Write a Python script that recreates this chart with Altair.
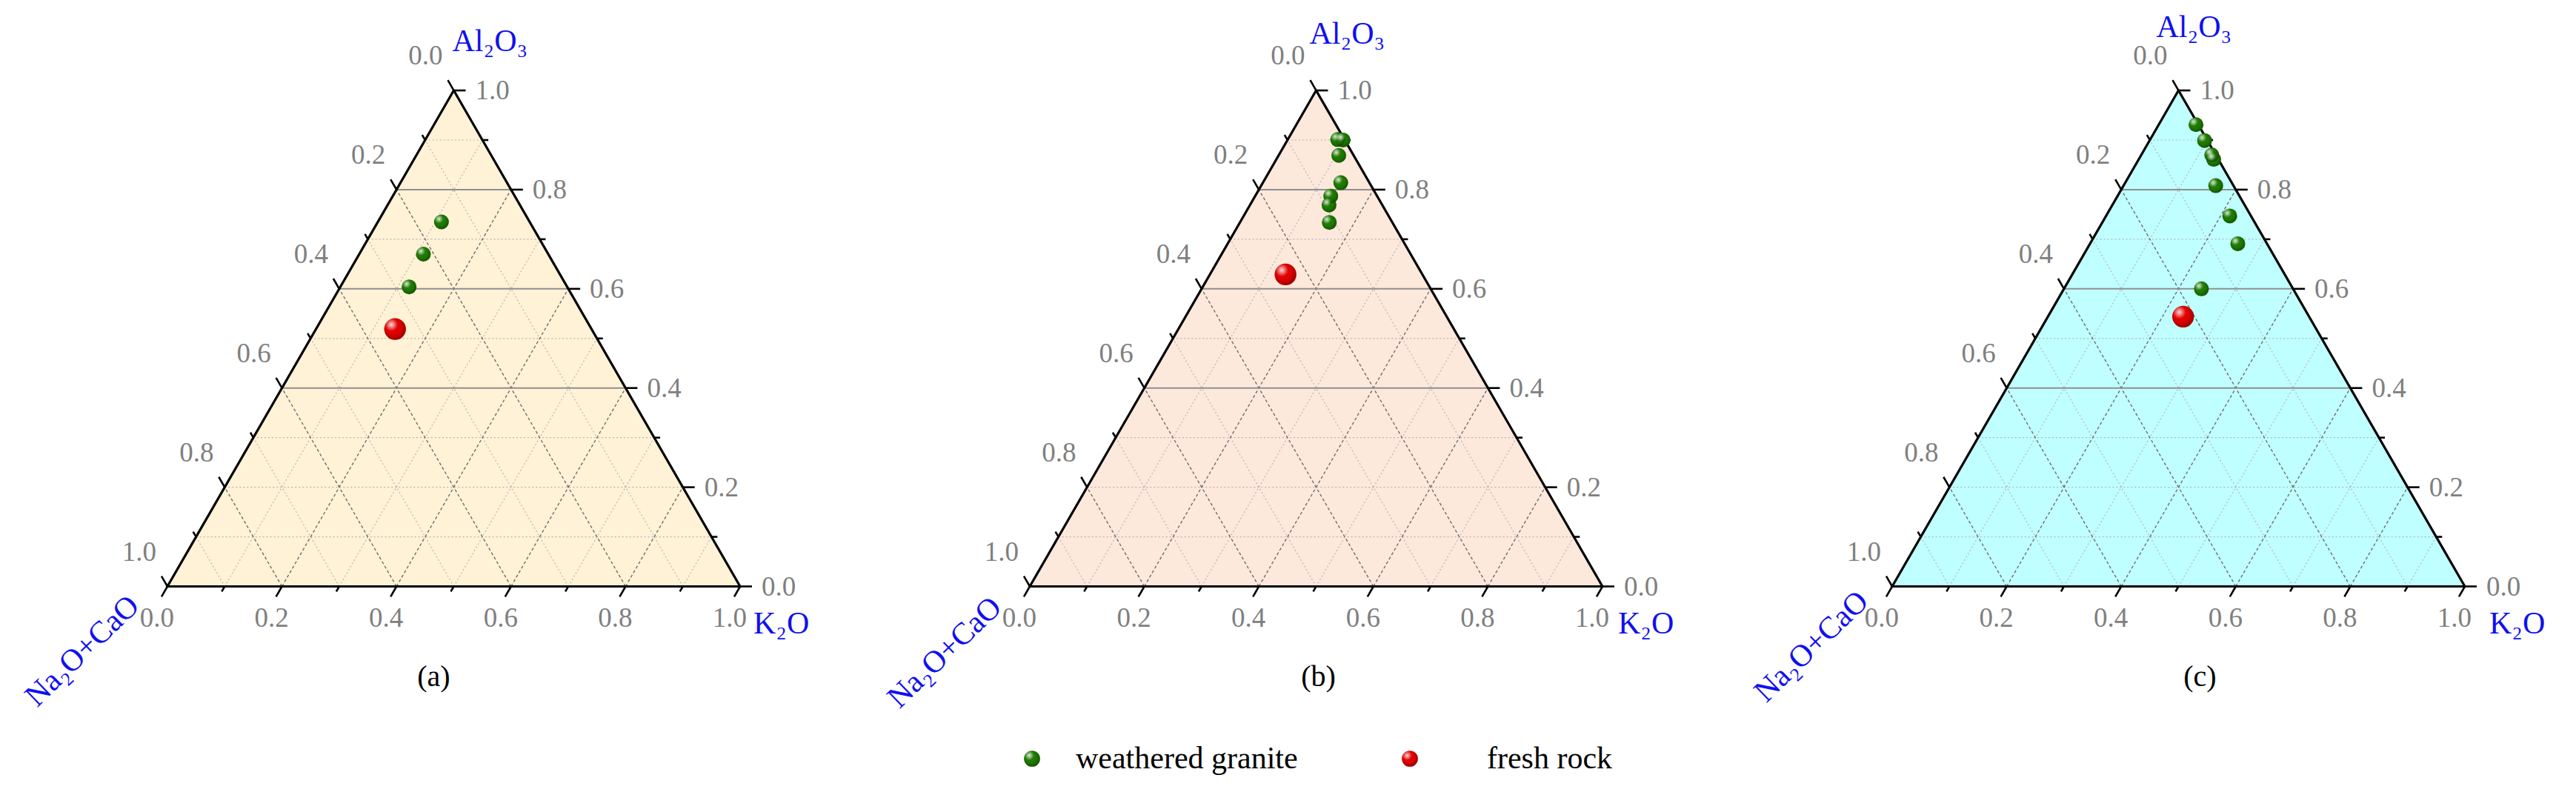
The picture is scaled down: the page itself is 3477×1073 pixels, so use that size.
import altair as alt
import numpy as np
import pandas as pd

# ---------------- values (ternary fractions) ----------------
# panel (a)
a_green_al2o3 = [0.735, 0.670, 0.604]
a_green_k2o = [0.111, 0.112, 0.120]
a_red_al2o3 = [0.519]
a_red_k2o = [0.138]
# panel (b)
b_green_al2o3 = [0.901, 0.900, 0.869, 0.814, 0.787, 0.769, 0.734]
b_green_k2o = [0.087, 0.097, 0.105, 0.136, 0.132, 0.138, 0.156]
b_red_al2o3 = [0.629]
b_red_k2o = [0.132]
# panel (c)
c_green_al2o3 = [0.931, 0.899, 0.870, 0.861, 0.808, 0.747, 0.691, 0.600]
c_green_k2o = [0.065, 0.096, 0.123, 0.131, 0.161, 0.216, 0.258, 0.240]
c_red_al2o3 = [0.544]
c_red_k2o = [0.236]

series_names = ["weathered granite", "fresh rock"]
series_colors = ["#1e7a02", "#e00000"]
panel_labels = ["(a)", "(b)", "(c)"]
panel_fills = ["#fff2d6", "#fde8dc", "#c0ffff"]

tick_values = [0.0, 0.2, 0.4, 0.6, 0.8, 1.0]
tick_labels = ["0.0", "0.2", "0.4", "0.6", "0.8", "1.0"]
minor_values = [0.1, 0.3, 0.5, 0.7, 0.9]
major_grid = [0.2, 0.4, 0.6, 0.8]
solid_levels = [0.4, 0.6, 0.8]  # Al2O3 levels drawn as solid lines

title_top = "Al₂O₃"
title_right = "K₂O"
title_left = "Na₂O+CaO"

# ---------------- layout ----------------
W, HGT = 1133, 1050
X0 = -0.282
UNIT = 773.0  # pixels per unit side length
X1 = X0 + W / UNIT
YMAX = 783.5 / UNIT
YMIN = YMAX - HGT / UNIT
FONT = "Liberation Serif"
S3 = np.sqrt(3) / 2


def to_xy(al, k):
    """ternary (Al2O3, K2O) -> cartesian"""
    return k + al / 2.0, al * S3


xs = alt.Scale(domain=[X0, X1], nice=False, zero=False)
ys = alt.Scale(domain=[YMIN, YMAX], nice=False, zero=False)
X = alt.X("x:Q", scale=xs, axis=None)
Y = alt.Y("y:Q", scale=ys, axis=None)

# grid lines
grid_rows = []
for v in major_grid + minor_values:
    major = v in major_grid
    (x1, y1), (x2, y2) = to_xy(v, 0), to_xy(v, 1 - v)
    grid_rows.append(dict(x=x1, y=y1, x2=x2, y2=y2, kind="hmaj" if v in solid_levels else "min"))
    (x1, y1), (x2, y2) = to_xy(0, v), to_xy(1 - v, v)
    grid_rows.append(dict(x=x1, y=y1, x2=x2, y2=y2, kind="dmaj" if major else "min"))
    (x1, y1), (x2, y2) = to_xy(0, 1 - v), to_xy(1 - v, 0)
    grid_rows.append(dict(x=x1, y=y1, x2=x2, y2=y2, kind="dmaj" if major else "min"))
grid_df = pd.DataFrame(grid_rows)

# triangle
vN, vK, vA = to_xy(0, 0), to_xy(0, 1), to_xy(1, 0)
edge_df = pd.DataFrame([
    dict(x=vN[0], y=vN[1], x2=vK[0], y2=vK[1]),
    dict(x=vK[0], y=vK[1], x2=vA[0], y2=vA[1]),
    dict(x=vA[0], y=vA[1], x2=vN[0], y2=vN[1]),
])
fill_df = pd.DataFrame([dict(x=p[0], y=p[1], y0=0.0) for p in (vN, vA, vK)])

# ticks
tick_rows = []
for vals, L in ((tick_values, 16 / UNIT), (minor_values, 8 / UNIT)):
    for v in vals:
        bx, by = to_xy(0, v)  # bottom axis (K2O)
        tick_rows.append(dict(x=bx, y=by, x2=bx - 0.5 * L, y2=by - S3 * L))
        rx, ry = to_xy(v, 1 - v)  # right axis (Al2O3)
        tick_rows.append(dict(x=rx, y=ry, x2=rx + L, y2=ry))
        lx, ly = to_xy(1 - v, 0)  # left axis (Na2O+CaO)
        tick_rows.append(dict(x=lx, y=ly, x2=lx - 0.5 * L, y2=ly + S3 * L))
tick_df = pd.DataFrame(tick_rows)

bottom_lab = pd.DataFrame([dict(x=to_xy(0, v)[0], y=to_xy(0, v)[1], t=t) for v, t in zip(tick_values, tick_labels)])
right_lab = pd.DataFrame([dict(x=to_xy(v, 1 - v)[0], y=to_xy(v, 1 - v)[1], t=t) for v, t in zip(tick_values, tick_labels)])
left_lab = pd.DataFrame([dict(x=to_xy(1 - v, 0)[0], y=to_xy(1 - v, 0)[1], t=t) for v, t in zip(tick_values, tick_labels)])


def points_df(g_al, g_k, r_al, r_k):
    rows = []
    for al, k in zip(g_al, g_k):
        x, y = to_xy(al, k)
        rows.append(dict(series=series_names[0], x=x, y=y))
    for al, k in zip(r_al, r_k):
        x, y = to_xy(al, k)
        rows.append(dict(series=series_names[1], x=x, y=y))
    return pd.DataFrame(rows)


panel_points = [
    points_df(a_green_al2o3, a_green_k2o, a_red_al2o3, a_red_k2o),
    points_df(b_green_al2o3, b_green_k2o, b_red_al2o3, b_red_k2o),
    points_df(c_green_al2o3, c_green_k2o, c_red_al2o3, c_red_k2o),
]

# per-panel text offsets (screen pixels)
top_off = [(-2, -53), (-9, -63), (-30, -72)]
right_off = [(18, 63), (21, 63), (33, 63)]
left_off = [(-176, 164), (-176, 166), (-170, 158)]
cap_off = [(-27, 122), (3, 122), (29, 122)]
LEFT_ANGLE = 316


def rot_offset(ox, oy, ang):
    """Vega applies dx/dy in the rotated text frame: convert a screen offset."""
    t = np.deg2rad(ang)
    c, s = np.cos(t), np.sin(t)
    return float(c * ox + s * oy), float(-s * ox + c * oy)


highlight = alt.RadialGradient(
    gradient="radial",
    stops=[alt.GradientStop(color="rgba(255,255,255,0.85)", offset=0),
           alt.GradientStop(color="rgba(255,255,255,0)", offset=1)],
    x1=0.33, y1=0.3, r1=0, x2=0.33, y2=0.3, r2=0.3,
)
shade = alt.RadialGradient(
    gradient="radial",
    stops=[alt.GradientStop(color="rgba(0,0,0,0)", offset=0.55),
           alt.GradientStop(color="rgba(0,0,0,0.3)", offset=1)],
    x1=0.42, y1=0.4, r1=0, x2=0.42, y2=0.4, r2=0.6,
)
size_enc = alt.Size("series:N", scale=alt.Scale(domain=series_names, range=[400, 860]), legend=None)
color_enc = alt.Color("series:N", scale=alt.Scale(domain=series_names, range=series_colors), legend=None)

# legend (drawn in panel b) – pixel placement inside that panel
leg_sym_x = [221, 731]
leg_txt_x = [280, 835]
LEG_Y = 1016


def sphere_layers(data, xenc, yenc, size):
    base = alt.Chart(data)
    return [
        base.mark_point(filled=True, opacity=1, strokeWidth=0).encode(x=xenc, y=yenc, color=color_enc, size=size),
        base.mark_point(filled=True, opacity=1, strokeWidth=0, fill=shade).encode(x=xenc, y=yenc, size=size),
        base.mark_point(filled=True, opacity=1, strokeWidth=0, fill=highlight).encode(x=xenc, y=yenc, size=size),
    ]


def panel(i):
    txt = dict(font=FONT)
    base_fill = alt.Chart(fill_df).mark_area(color=panel_fills[i], opacity=1).encode(
        x=X, y=Y, y2=alt.Y2("y0:Q"))
    g = alt.Chart(grid_df)
    grid_min = g.transform_filter(alt.datum.kind == "min").mark_rule(
        color="#b5b5b5", strokeWidth=1.2, strokeDash=[2, 3]).encode(x=X, y=Y, x2="x2:Q", y2="y2:Q")
    grid_d = g.transform_filter(alt.datum.kind == "dmaj").mark_rule(
        color="#6e6e6e", strokeWidth=1.4, strokeDash=[4, 3]).encode(x=X, y=Y, x2="x2:Q", y2="y2:Q")
    grid_h = g.transform_filter(alt.datum.kind == "hmaj").mark_rule(
        color="#8f8f8f", strokeWidth=2).encode(x=X, y=Y, x2="x2:Q", y2="y2:Q")
    edges = alt.Chart(edge_df).mark_rule(color="black", strokeWidth=3.2, strokeCap="round").encode(
        x=X, y=Y, x2="x2:Q", y2="y2:Q")
    ticks = alt.Chart(tick_df).mark_rule(color="black", strokeWidth=2.6).encode(
        x=X, y=Y, x2="x2:Q", y2="y2:Q")
    lab_style = dict(font=FONT, fontSize=37, color="#7f7f7f")
    lb = alt.Chart(bottom_lab).mark_text(align="center", baseline="middle", dx=-14, dy=43, **lab_style).encode(
        x=X, y=Y, text="t:N")
    lr = alt.Chart(right_lab).mark_text(align="left", baseline="middle", dx=29, dy=1, **lab_style).encode(
        x=X, y=Y, text="t:N")
    ll = alt.Chart(left_lab).mark_text(align="center", baseline="middle", dx=-38, dy=-46, **lab_style).encode(
        x=X, y=Y, text="t:N")

    vt = pd.DataFrame([dict(x=vA[0], y=vA[1], t=title_top)])
    vr = pd.DataFrame([dict(x=vK[0], y=vK[1], t=title_right)])
    vl = pd.DataFrame([dict(x=vN[0], y=vN[1], t=title_left)])
    bc = to_xy(0, 0.5)
    vc = pd.DataFrame([dict(x=bc[0], y=bc[1], t=panel_labels[i])])
    t_top = alt.Chart(vt).mark_text(align="left", baseline="alphabetic", fontSize=42, color="#1010f0",
                                    dx=top_off[i][0], dy=top_off[i][1], **txt).encode(x=X, y=Y, text="t:N")
    t_right = alt.Chart(vr).mark_text(align="left", baseline="alphabetic", fontSize=42, color="#1010f0",
                                      dx=right_off[i][0], dy=right_off[i][1], **txt).encode(x=X, y=Y, text="t:N")
    ldx, ldy = rot_offset(left_off[i][0], left_off[i][1], LEFT_ANGLE)
    t_left = alt.Chart(vl).mark_text(align="left", baseline="alphabetic", fontSize=42, color="#1010f0",
                                     angle=LEFT_ANGLE, dx=ldx, dy=ldy, **txt).encode(
        x=X, y=Y, text="t:N")
    t_cap = alt.Chart(vc).mark_text(align="center", baseline="middle", fontSize=40, color="black",
                                    dx=cap_off[i][0], dy=cap_off[i][1], **txt).encode(x=X, y=Y, text="t:N")

    layers = [base_fill, grid_min, grid_d, grid_h, edges, ticks, lb, lr, ll,
              t_top, t_right, t_left, t_cap]
    layers += sphere_layers(panel_points[i], X, Y, size_enc)

    if i == 1:
        for k, name in enumerate(series_names):
            d = pd.DataFrame({"series": [name]})
            layers += sphere_layers(d, alt.value(leg_sym_x[k]), alt.value(LEG_Y), alt.value(470))
            layers.append(
                alt.Chart(d).mark_text(align="left", baseline="middle", fontSize=42, color="black", font=FONT)
                .encode(x=alt.value(leg_txt_x[k]), y=alt.value(LEG_Y), text="series:N")
            )

    return alt.layer(*layers).properties(width=W, height=HGT)


chart = alt.hconcat(panel(0), panel(1), panel(2), spacing=31, bounds="flush").properties(
    padding=0).configure_view(stroke=None)

chart.save("out.html", embed_options={"renderer": "svg", "actions": False})
